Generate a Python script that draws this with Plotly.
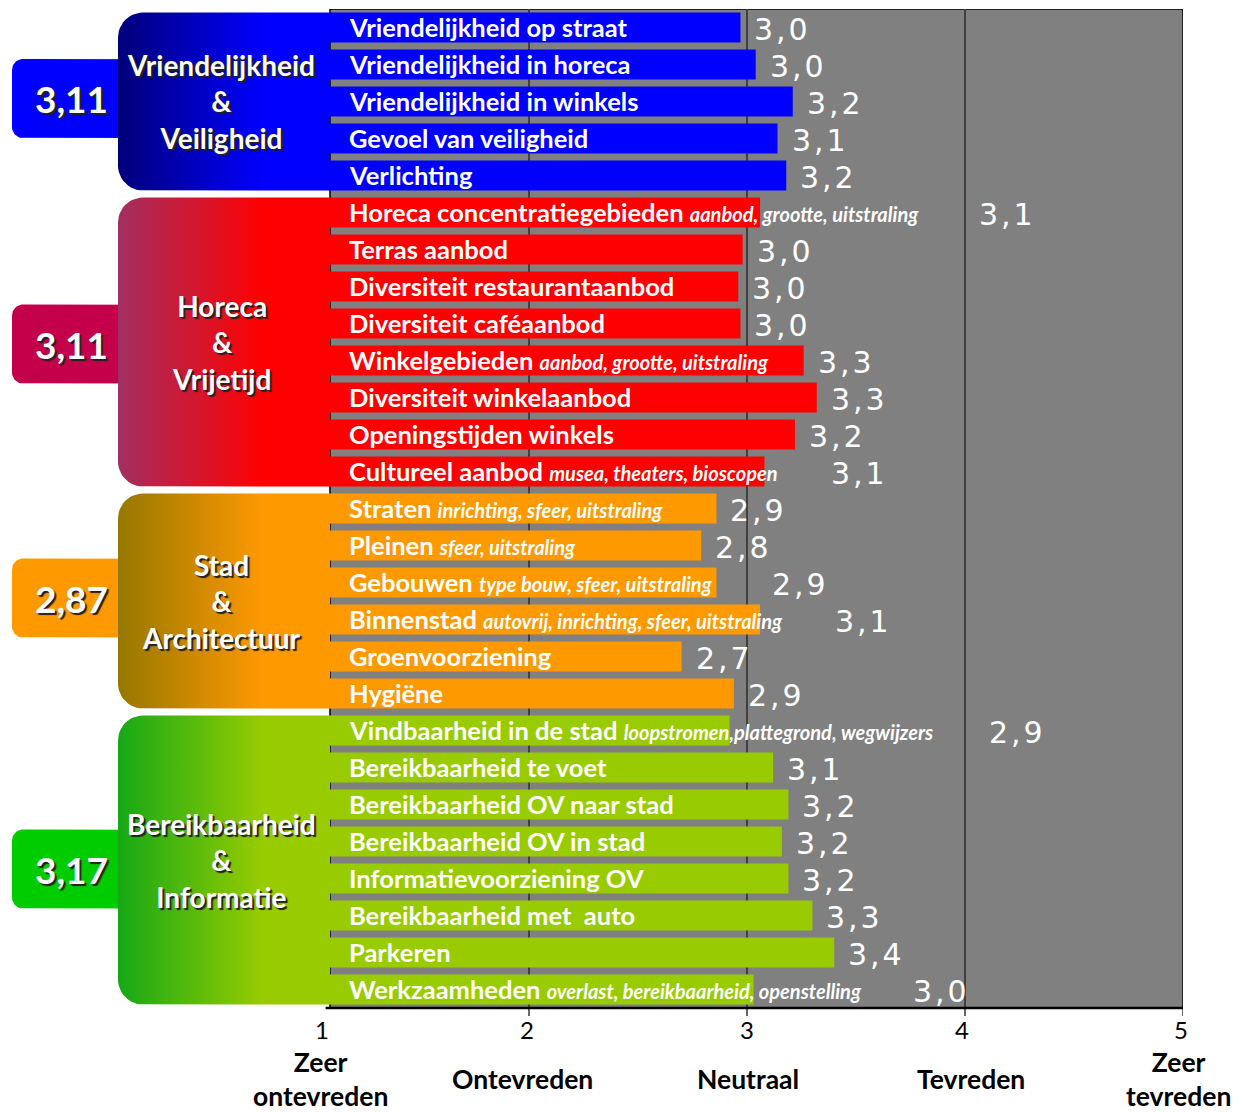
import math
import plotly.graph_objects as go

# ---------------- data ----------------
categories = [
    "Vriendelijkheid op straat", "Vriendelijkheid in horeca", "Vriendelijkheid in winkels",
    "Gevoel van veiligheid", "Verlichting",
    "Horeca concentratiegebieden", "Terras aanbod", "Diversiteit restaurantaanbod",
    "Diversiteit caféaanbod", "Winkelgebieden", "Diversiteit winkelaanbod",
    "Openingstijden winkels", "Cultureel aanbod",
    "Straten", "Pleinen", "Gebouwen", "Binnenstad", "Groenvoorziening", "Hygiëne",
    "Vindbaarheid in de stad", "Bereikbaarheid te voet", "Bereikbaarheid OV naar stad",
    "Bereikbaarheid OV in stad", "Informatievoorziening OV", "Bereikbaarheid met  auto",
    "Parkeren", "Werkzaamheden",
]
details = [
    "", "", "", "", "",
    "aanbod, grootte, uitstraling", "", "", "", "aanbod, grootte, uitstraling", "", "",
    "musea, theaters, bioscopen",
    "inrichting, sfeer, uitstraling", "sfeer, uitstraling", "type bouw, sfeer, uitstraling",
    "autovrij, inrichting, sfeer, uitstraling", "", "",
    "loopstromen,plattegrond, wegwijzers", "", "", "", "", "", "",
    "overlast, bereikbaarheid, openstelling",
]
scores = [
    2.97, 3.04, 3.21, 3.14, 3.18,
    3.06, 2.98, 2.96, 2.97, 3.26, 3.32, 3.22, 3.08,
    2.86, 2.79, 2.86, 3.06, 2.70, 2.94,
    2.92, 3.12, 3.19, 3.16, 3.19, 3.30, 3.40, 3.03,
]
group_names = ["Vriendelijkheid<br>&<br>Veiligheid", "Horeca<br>&<br>Vrijetijd",
               "Stad<br>&<br>Architectuur", "Bereikbaarheid<br>&<br>Informatie"]
group_scores = ["3,11", "3,11", "2,87", "3,17"]
group_sizes = [5, 8, 6, 8]
tick_values = [1, 2, 3, 4, 5]
tick_numbers = ["1", "2", "3", "4", "5"]
tick_texts = ["Zeer<br>ontevreden", "Ontevreden", "Neutraal", "Tevreden", "Zeer<br>tevreden"]

# value label positions for rows where the text runs past the bar
value_label_x = {5: 4.055, 12: 3.376, 15: 3.106, 16: 3.394, 19: 4.10, 26: 3.752}

# ---------------- styles ----------------
bar_colors = ["#0000FF", "#FF0000", "#FF9900", "#99CC00"]
grad_start = ["#00007A", "#A22F62", "#967800", "#16A816"]
score_colors = ["#0000FF", "#C4004A", "#FF9900", "#00CC00"]
score_box_shift_px = [-3, 2, -3, 9]

W, H = 1241, 1112
ML, MR, MT, MB = 12, 58, 9, 104
PX_PER_UNIT = 218.0
PX_AT_1 = 311.0
PLOT_H = H - MT - MB
ROW_PX = PLOT_H / 27.0


def xpx(p):
    return 1 + (p - PX_AT_1) / PX_PER_UNIT


def ypaper(p):
    return (H - MB - p) / PLOT_H


X_MIN = xpx(ML)
XG = xpx(330)          # left edge of grey plot area / bar base
BAR_W = 0.81


def rounded_rect(x0, x1, y0, y1, r, round_right=True, n=12):
    rx = r / PX_PER_UNIT
    ry = r / ROW_PX
    xs, ys = [], []

    def arc(cx, cy, a0, a1):
        for k in range(n + 1):
            t = math.radians(a0 + (a1 - a0) * k / n)
            xs.append(cx + rx * math.cos(t))
            ys.append(cy + ry * math.sin(t))

    arc(x0 + rx, y0 + ry, 180, 270)
    if round_right:
        arc(x1 - rx, y0 + ry, 270, 360)
        arc(x1 - rx, y1 - ry, 0, 90)
    else:
        xs.append(x1); ys.append(y0)
        xs.append(x1); ys.append(y1)
    arc(x0 + rx, y1 - ry, 90, 180)
    xs.append(xs[0]); ys.append(ys[0])
    return xs, ys


fig = go.Figure()
annotations = []
shapes = []

starts = []
s = 0
for g in group_sizes:
    starts.append(s)
    s += g

row_group = []
for gi, g in enumerate(group_sizes):
    row_group += [gi] * g

for gi, (st, g) in enumerate(zip(starts, group_sizes)):
    top = st - BAR_W / 2
    bot = st + g - 1 + BAR_W / 2
    mid = st + (g - 1) / 2
    smid = mid + score_box_shift_px[gi] / ROW_PX
    # score box
    sh = 79 / ROW_PX / 2
    xs, ys = rounded_rect(X_MIN, xpx(160), smid - sh, smid + sh, 11)
    fig.add_trace(go.Scatter(x=xs, y=ys, mode="lines", fill="toself",
                             fillcolor=score_colors[gi], line=dict(width=0),
                             hoverinfo="skip", showlegend=False))
    # group box with gradient
    xs, ys = rounded_rect(xpx(118), XG, top, bot, 25, round_right=False)
    fig.add_trace(go.Scatter(
        x=xs, y=ys, mode="lines", fill="toself", line=dict(width=0),
        fillgradient=dict(type="horizontal",
                          colorscale=[[0, grad_start[gi]], [0.69, bar_colors[gi]], [1, bar_colors[gi]]]),
        hoverinfo="skip", showlegend=False))
    annotations.append(dict(x=xpx(110), y=smid, xref="x", yref="y", xanchor="right",
                            yanchor="middle", text=group_scores[gi], showarrow=False,
                            font=dict(family="Lato", size=37, color="white", weight="bold",
                                      shadow="2px 2px 1px #222")))
    annotations.append(dict(x=xpx(221), y=mid, xref="x", yref="y", xanchor="center",
                            yanchor="middle", text=group_names[gi], showarrow=False,
                            font=dict(family="Lato", size=28, color="white", weight="bold",
                                      shadow="2px 2px 1px #222")))

# bars
rows = list(range(len(categories)))
fig.add_trace(go.Bar(
    y=rows, x=[v - XG for v in scores], base=XG, orientation="h", width=BAR_W,
    marker=dict(color=[bar_colors[row_group[i]] for i in rows], line=dict(width=0)),
    hoverinfo="skip", showlegend=False))

for i, (cat, det, v) in enumerate(zip(categories, details, scores)):
    txt = cat
    if det:
        txt += " <span style='font-size:20px'><i>" + det + "</i></span>"
    annotations.append(dict(x=XG, y=i, xref="x", yref="y", xanchor="left", yanchor="middle",
                            xshift=17, yshift=1, text=txt, showarrow=False,
                            font=dict(family="Lato", size=25.5, color="white", weight="bold")))
    lab = f"{v:.1f}".replace(".", ",")
    lab = "\u200a".join(lab)
    lx = value_label_x.get(i, v + 12 / PX_PER_UNIT)
    annotations.append(dict(x=lx, y=i, xref="x", yref="y", xanchor="left", yanchor="middle",
                            yshift=-2, text=lab, showarrow=False,
                            font=dict(family="DejaVu Sans", size=30, color="white")))

# plot area background + border
shapes.append(dict(type="rect", xref="x", yref="y", x0=XG, x1=5, y0=-0.5, y1=26.5,
                   fillcolor="#808080", line=dict(color="black", width=1.5), layer="below"))
shapes.append(dict(type="line", xref="x", yref="paper", x0=XG - 0.02, x1=5, y0=0, y1=0,
                   line=dict(color="black", width=2.5)))
for tv in tick_values[1:]:
    shapes.append(dict(type="line", xref="x", yref="paper", x0=tv, x1=tv, y0=0, y1=ypaper(1016),
                       line=dict(color="black", width=1.2)))

# axis tick labels
num_shift = [11, -2, 0, -3, -2]
txt_shift = [9, -7, 1, 6, -5]
for tv, tn, tt, ns, ts in zip(tick_values, tick_numbers, tick_texts, num_shift, txt_shift):
    annotations.append(dict(x=tv, y=ypaper(1029), xref="x", yref="paper", xanchor="center",
                            yanchor="middle", xshift=ns, text=tn, showarrow=False,
                            font=dict(family="Lato", size=24, color="black")))
    annotations.append(dict(x=tv, y=ypaper(1079), xref="x", yref="paper", xanchor="center",
                            yanchor="middle", xshift=ts, text="<b>" + tt + "</b>", showarrow=False,
                            font=dict(family="Lato", size=26.5, color="black")))

fig.update_layout(
    width=W, height=H,
    margin=dict(l=ML, r=MR, t=MT, b=MB, pad=0),
    paper_bgcolor="white", plot_bgcolor="white",
    xaxis=dict(range=[X_MIN, 5], tickvals=[2, 3, 4], showgrid=True, gridcolor="#404040",
               gridwidth=2, showticklabels=False, zeroline=False, showline=False, ticks=""),
    yaxis=dict(range=[26.5, -0.5], showgrid=False, showticklabels=False, zeroline=False,
               showline=False, ticks=""),
    barmode="overlay",
    annotations=annotations, shapes=shapes,
    showlegend=False,
)

fig.write_html("out.html", config={"displayModeBar": False},
               post_script="document.body.style.margin='0';")
